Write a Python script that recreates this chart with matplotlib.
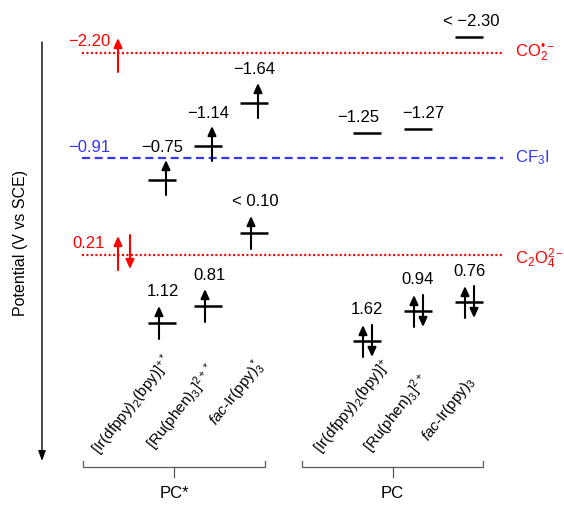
"""Redox potential level diagram: PC* / PC vs substrates"""

import matplotlib
matplotlib.use('Agg')
import matplotlib.pyplot as plt

plt.rcParams['font.family'] = ['Liberation Sans', 'DejaVu Sans']
plt.rcParams['mathtext.fontset'] = 'custom'
plt.rcParams['mathtext.rm'] = 'Liberation Sans'
plt.rcParams['mathtext.it'] = 'Liberation Sans:italic'
plt.rcParams['mathtext.bf'] = 'Liberation Sans:bold'

# ---- data (schematic level heights, top = more negative potential) ----
pc_star_names = ['[Ir(dfppy)$_2$(bpy)]$^{+*}$', '[Ru(phen)$_3$]$^{2+*}$',
                 r'$\it{fac}$-Ir(ppy)$_3^*$']
pc_names = ['[Ir(dfppy)$_2$(bpy)]$^{+}$', '[Ru(phen)$_3$]$^{2+}$',
            r'$\it{fac}$-Ir(ppy)$_3$']

exc_red_text = ['\u22120.75', '\u22121.14', '\u22121.64']
exc_red_level = [180, 146, 103]
exc_ox_text = ['1.12', '0.81', '< 0.10']
exc_ox_level = [323, 306, 233]

gs_red_text = ['\u22121.25', '\u22121.27', '< \u22122.30']
gs_red_level = [133, 129, 37]
gs_ox_text = ['1.62', '0.94', '0.76']
gs_ox_level = [341, 311, 302]

sub_names = ['CO$_2^{\u2022\u2212}$', 'CF$_3$I', 'C$_2$O$_4^{2\u2212}$']
sub_text = ['\u22122.20', '\u22120.91', '0.21']
sub_level = [53, 158, 255]

# ---- layout ----
x_star = [162, 208, 254]
x_pc = [367, 418, 469]
HALF = 14
RED = '#ff0000'
BLUE = '#3535ff'
sub_colors = [RED, BLUE, RED]
sub_styles = [(0, (0.9, 1.1)), (0, (3.6, 2.1)), (0, (0.9, 1.1))]

fig = plt.figure(figsize=(5.64, 5.05), dpi=100)
ax = fig.add_axes([0, 0, 1, 1])
ax.set_xlim(0, 564)
ax.set_ylim(505, 0)
ax.axis('off')


def arrow(x, y0, y1, color='k'):
    ax.annotate('', xy=(x, y1), xytext=(x, y0),
                arrowprops=dict(arrowstyle='-|>,head_length=0.55,head_width=0.25',
                                mutation_scale=10, lw=1.5, color=color,
                                shrinkA=0, shrinkB=0))


def level(x, y):
    ax.plot([x - HALF, x + HALF], [y, y], color='k', lw=1.8, solid_capstyle='butt')


# potential axis
ax.annotate('', xy=(42, 461), xytext=(42, 42),
            arrowprops=dict(arrowstyle='-|>,head_length=0.6,head_width=0.22',
                            mutation_scale=10, lw=1.0, color='k', shrinkA=0, shrinkB=0))
ax.text(21, 243, 'Potential (V vs SCE)', rotation=90, ha='center', va='center', fontsize=11.5)

# substrate lines
for name, txt, y, c, ls in zip(sub_names, sub_text, sub_level, sub_colors, sub_styles):
    ax.plot([82, 503], [y, y], color=c, lw=1.6, linestyle=ls)
    ax.text(89, y - 11, txt, color=c, fontsize=12, ha='center', va='center')
    ax.text(515, y + (4 if '4' in name else 0), name, color=c, fontsize=12,
            ha='left', va='center')
arrow(118, sub_level[0] + 19, sub_level[0] - 15, RED)
arrow(118, sub_level[2] + 15, sub_level[2] - 19, RED)
arrow(130, sub_level[2] - 20, sub_level[2] + 14, RED)

# excited-state photocatalysts
for x, t, y in zip(x_star, exc_red_text, exc_red_level):
    level(x, y)
    arrow(x + 4, y + 15, y - 20)
    ax.text(x, y - 33, t, fontsize=12, ha='center', va='center')
for x, t, y in zip(x_star, exc_ox_text, exc_ox_level):
    level(x, y)
    arrow(x - 3, y + 16, y - 17)
    ax.text(x + 1, y - 31, t, fontsize=12, ha='center', va='center')

# ground-state photocatalysts
for x, t, y, dx in zip(x_pc, gs_red_text, gs_red_level, [-9, 5, 2]):
    level(x, y)
    ax.text(x + dx, y - 15, t, fontsize=12, ha='center', va='center')
for x, t, y in zip(x_pc, gs_ox_text, gs_ox_level):
    level(x, y)
    arrow(x - 4, y + 16, y - 16)
    arrow(x + 5, y - 16, y + 16)
    ax.text(x, y - 31, t, fontsize=12, ha='center', va='center')

# rotated compound names
for name, (sx, sy) in zip(pc_star_names, [(99, 455), (154, 450), (216, 427)]):
    ax.text(sx, sy, name, rotation=52, rotation_mode='anchor', ha='left',
            va='baseline', fontsize=11)
for name, (sx, sy) in zip(pc_names, [(322, 455), (371, 453), (428, 442)]):
    ax.text(sx, sy, name, rotation=52, rotation_mode='anchor', ha='left',
            va='baseline', fontsize=11)

# group brackets
for x0, x1, lab in [(83, 265, 'PC*'), (302, 483, 'PC')]:
    xm = (x0 + x1) / 2
    ax.plot([x0, x0, x1, x1], [461, 467, 467, 461], color='0.35', lw=0.9)
    ax.plot([xm, xm], [467, 477], color='0.35', lw=0.9)
    ax.text(xm, 493, lab, fontsize=12, ha='center', va='center')

fig.savefig('out.png', dpi=100)
